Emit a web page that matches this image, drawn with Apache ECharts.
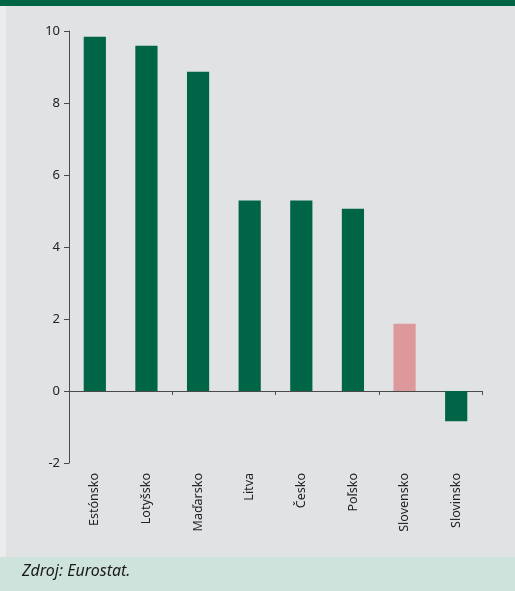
<!DOCTYPE html>
<html>
<head>
<meta charset="utf-8">
<script src="https://cdn.jsdelivr.net/npm/echarts@6/dist/echarts.min.js"></script>
<style>
  html, body { margin: 0; padding: 0; background: #ececec; }
  #chart { width: 515px; height: 591px; }
</style>
</head>
<body>
<div id="chart"></div>
<script>
// Krajiny a ich hodnoty (v %)
const categories = ['Estónsko', 'Lotyšsko', 'Maďarsko', 'Litva', 'Česko', 'Poľsko', 'Slovensko', 'Slovinsko'];
const values = [9.84, 9.59, 8.87, 5.29, 5.29, 5.06, 1.87, -0.84];
const highlight = 'Slovensko';
const yTicks = [-2, 0, 2, 4, 6, 8, 10];

const GREEN = '#006446';
const PINK = '#dc989a';
const AXIS = '#4a4a4a';
const FONT = '"Noto Sans", "Open Sans", sans-serif';

const chart = echarts.init(document.getElementById('chart'), null, { renderer: 'canvas' });

chart.setOption({
  animation: false,
  backgroundColor: 'transparent',
  graphic: [
    { type: 'rect', z: -10, shape: { x: 6, y: 0, width: 509, height: 557 }, style: { fill: '#e1e2e4' } },
    { type: 'rect', z: -9, shape: { x: 0, y: 0, width: 515, height: 6 }, style: { fill: GREEN } },
    { type: 'rect', z: -9, shape: { x: 0, y: 557, width: 515, height: 34 }, style: { fill: '#cde3dc' } },
    {
      type: 'text', left: 22, top: 563,
      style: { text: 'Zdroj: Eurostat.', fill: '#1a1a1a', font: 'italic 16px ' + FONT }
    }
  ],
  grid: { left: 69, right: 33, top: 31, bottom: 128, containLabel: false },
  xAxis: [
    {
      type: 'category',
      data: categories,
      axisLine: { onZero: true, lineStyle: { color: AXIS, width: 1 } },
      axisTick: { show: true, length: 4, inside: false, lineStyle: { color: AXIS } },
      axisLabel: { show: false }
    },
    {
      type: 'category',
      data: categories,
      position: 'bottom',
      axisLine: { show: false, onZero: false },
      axisTick: { show: false },
      axisLabel: {
        rotate: 90, margin: 10, color: '#222',
        fontFamily: FONT, fontSize: 12.5
      }
    }
  ],
  yAxis: {
    type: 'value',
    min: -2, max: 10, interval: 2,
    axisLine: { show: true, lineStyle: { color: AXIS, width: 1 } },
    axisTick: { show: true, length: 5, lineStyle: { color: AXIS } },
    splitLine: { show: false },
    axisLabel: {
      margin: 9, color: '#222', fontFamily: FONT, fontSize: 13,
      formatter: v => (yTicks.includes(v) ? String(v) : '')
    }
  },
  series: [{
    type: 'bar',
    xAxisIndex: 0,
    barWidth: '43%',
    data: values.map((v, i) => ({
      value: v,
      itemStyle: { color: categories[i] === highlight ? PINK : GREEN }
    }))
  }]
});
</script>
</body>
</html>
